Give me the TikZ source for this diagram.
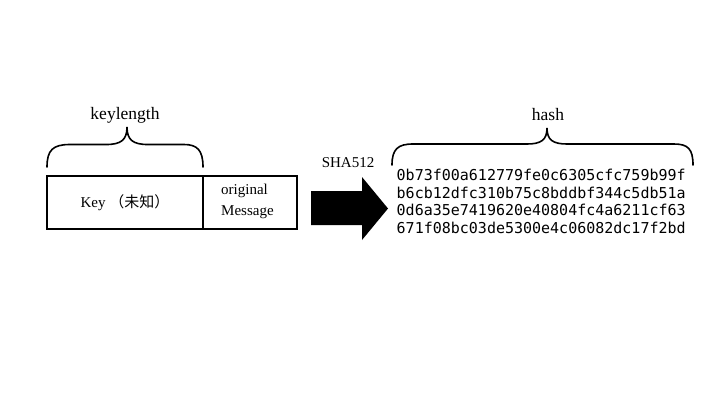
\documentclass[tikz,border=0pt]{standalone}
\usepackage{fontspec}
\setmainfont{Liberation Serif}
\newfontfamily\cjk{Noto Sans CJK JP}
\newfontfamily\hashmono{DejaVu Sans Mono}
\begin{document}
\begin{tikzpicture}[x=1pt,y=-1pt,
  cell/.style={draw, line width=1.8pt, minimum height=53pt, inner sep=0pt,
    font=\fontsize{15}{21}\selectfont},
  txt/.style={inner sep=0pt, font=\fontsize{15}{21}\selectfont},
  lbl/.style={inner sep=0pt, font=\fontsize{17.5}{20}\selectfont},
  bracepath/.style={line width=1.6pt, line cap=round},
  hashtxt/.style={inner sep=0pt, align=left, font=\hashmono\fontsize{15}{17.8}\selectfont},
]
\useasboundingbox[fill=white] (0,0) rectangle (720,405);

% input block
\node[cell, minimum width=156pt] (key) at (125,202.5) {Key {\cjk （未知）}};
\node[cell, minimum width=94pt] (msg) at (250,202.5) {};
\node[txt, anchor=west, align=left] (msgtext) at (221,201) {original\\Message};

% keylength brace
\node[lbl] (keylen) at (125,115) {keylength};
\draw[bracepath] (47,167) .. controls (47,150) and (53,144.5) .. (70,144.5) -- (106,144.5)
  .. controls (121,144.5) and (127,140) .. (127,127)
  .. controls (127,140) and (133,144.5) .. (148,144.5) -- (184,144.5)
  .. controls (197,144.5) and (203,150) .. (203,167);

% arrow
\node[txt] (sha) at (348,163) {SHA512};
\fill (311,191) -- (362,191) -- (362,177) -- (388,208.5) -- (362,240) -- (362,225)
  -- (311,225) -- cycle;

% hash
\node[lbl] (hashlabel) at (548,115) {hash};
\draw[bracepath] (392,165) .. controls (392,149) and (398,144) .. (413,144) -- (527,144)
  .. controls (541,144) and (547,140) .. (547,128)
  .. controls (547,140) and (553,144) .. (567,144) -- (674,144)
  .. controls (688,144) and (693,149) .. (693,165);
\node[hashtxt, anchor=west] (hash) at (396.5,201.5)
  {0b73f00a612779fe0c6305cfc759b99f\\b6cb12dfc310b75c8bddbf344c5db51a\\0d6a35e7419620e40804fc4a6211cf63\\671f08bc03de5300e4c06082dc17f2bd};
\end{tikzpicture}
\end{document}
